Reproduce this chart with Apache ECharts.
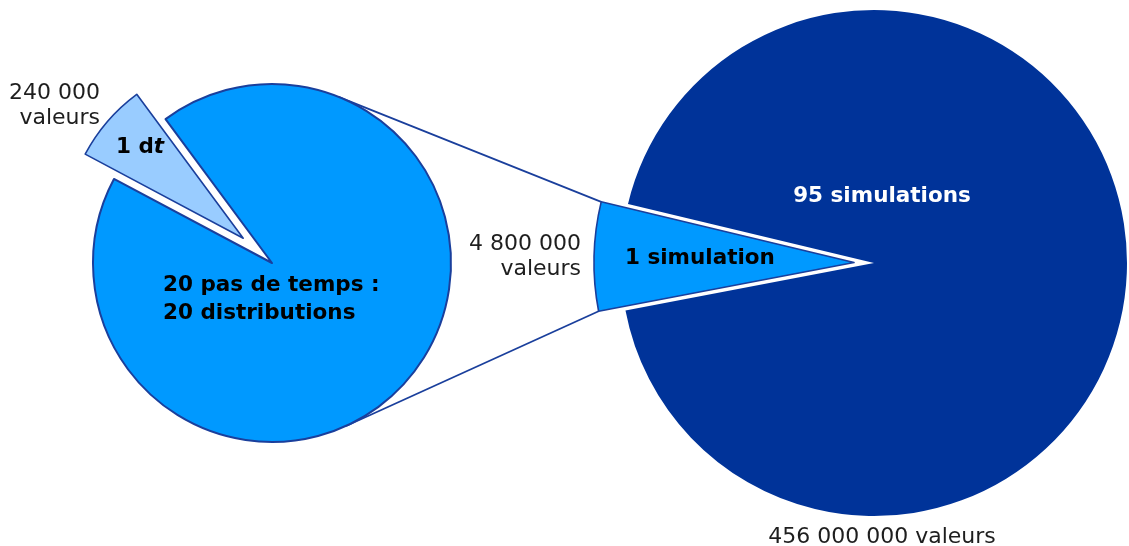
<!DOCTYPE html>
<html>
<head>
<meta charset="utf-8">
<script src="https://cdn.jsdelivr.net/npm/echarts@6/dist/echarts.min.js"></script>
<style>
html,body{margin:0;padding:0;background:#fff;}
#main{width:1129px;height:546px;}
</style>
</head>
<body>
<div id="main"></div>
<script>
// ---- data ----
const timeStepNames = ['1 dt', '19 autres pas de temps'];
const timeStepValues = [1, 19];
const simulationNames = ['1 simulation', '95 simulations'];
const simulationValues = [1, 95];
const valueLabels = ['240 000\nvaleurs', '4 800 000\nvaleurs', '456 000 000 valeurs'];
const sliceLabels = ['20 pas de temps :\n20 distributions', '1 simulation', '95 simulations'];

// ---- style ----
const FONT = 'DejaVu Sans';
const C_MAIN = '#0099ff', C_DT = '#99ccff', C_DARK = '#003399', C_EDGE = '#1a3f9c';
const leftCenter = [272, 263], leftR = 179, leftStart = 152, leftMinAngle = 25.5, leftOffset = 38;
const rightCenter = [874, 263], rightR = 253, sliceR = 260, rightStart = 190.8, rightMinAngle = 24.3, rightOffset = 20;
const REG = 22, BOLD = 21.5;

const chart = echarts.init(document.getElementById('main'), null, {renderer: 'canvas'});

const common = {
  type: 'pie', silent: true, animation: false, clockwise: true,
  label: {show: false}, labelLine: {show: false},
  emphasis: {disabled: true}, avoidLabelOverlap: false
};

const option = {
  backgroundColor: '#ffffff',
  animation: false,
  series: [
    Object.assign({}, common, {
      name: 'pas de temps', center: leftCenter, radius: leftR,
      startAngle: leftStart, minAngle: leftMinAngle,
      selectedMode: 'single', selectedOffset: leftOffset,
      select: {itemStyle: {color: C_DT, borderColor: C_EDGE, borderWidth: 1.6}},
      data: timeStepValues.map((v, i) => ({
        value: v, name: timeStepNames[i], selected: i === 0,
        itemStyle: i === 0
          ? {color: C_DT, borderColor: C_EDGE, borderWidth: 1.6}
          : {color: C_MAIN, borderColor: C_EDGE, borderWidth: 2}
      }))
    }),
    Object.assign({}, common, {
      name: 'simulations', center: rightCenter, radius: rightR,
      startAngle: rightStart, minAngle: rightMinAngle,
      data: simulationValues.map((v, i) => ({
        value: v, name: simulationNames[i],
        itemStyle: i === 0 ? {color: 'rgba(0,0,0,0)', borderWidth: 0} : {color: C_DARK, borderWidth: 0}
      }))
    }),
    Object.assign({}, common, {
      name: 'simulation', center: rightCenter, radius: sliceR,
      startAngle: rightStart, minAngle: rightMinAngle,
      selectedMode: 'single', selectedOffset: rightOffset,
      select: {itemStyle: {color: C_MAIN, borderColor: C_EDGE, borderWidth: 1.6}},
      data: simulationValues.map((v, i) => ({
        value: v, name: simulationNames[i], selected: i === 0,
        itemStyle: i === 0 ? {color: C_MAIN, borderColor: C_EDGE, borderWidth: 1.6} : {color: 'rgba(0,0,0,0)', borderWidth: 0}
      }))
    })
  ]
};
chart.setOption(option);

// ---- connectors derived from the library's pie layout ----
function layoutOf(seriesIndex, idx) {
  try {
    return chart.getModel().getSeriesByIndex(seriesIndex).getData().getItemLayout(idx);
  } catch (e) { return null; }
}
const sl = layoutOf(2, 0);
const ll = layoutOf(0, 1);
const graphics = [];
if (sl && ll) {
  const mid = (sl.startAngle + sl.endAngle) / 2;
  const ax = sl.cx + rightOffset * Math.cos(mid), ay = sl.cy + rightOffset * Math.sin(mid);
  const pA = [ax + sl.r * Math.cos(sl.startAngle), ay + sl.r * Math.sin(sl.startAngle)];
  const pB = [ax + sl.r * Math.cos(sl.endAngle), ay + sl.r * Math.sin(sl.endAngle)];
  const top = pA[1] < pB[1] ? pA : pB, bot = pA[1] < pB[1] ? pB : pA;
  function tangent(P, sign) {
    const dx = P[0] - ll.cx, dy = P[1] - ll.cy;
    const d = Math.sqrt(dx * dx + dy * dy);
    const base = Math.atan2(dy, dx), a = Math.acos(ll.r / d);
    const t = base + sign * a;
    return [ll.cx + ll.r * Math.cos(t), ll.cy + ll.r * Math.sin(t)];
  }
  const t1 = tangent(top, -1), t2 = tangent(bot, 1);
  [[t1, top], [t2, bot]].forEach(([a, b]) => graphics.push({
    type: 'line', z: -1, silent: true,
    shape: {x1: a[0], y1: a[1], x2: b[0], y2: b[1]},
    style: {stroke: C_EDGE, lineWidth: 1.8}
  }));
}

function txt(text, x, y, align, opts) {
  const bold = opts && opts.bold;
  return {
    type: 'text', z: 100, silent: true, x: x, y: y,
    style: {
      text: text, x: 0, y: 0, align: align, verticalAlign: 'middle',
      font: (bold ? 'bold ' + BOLD : REG) + 'px "' + FONT + '"',
      fill: (opts && opts.fill) || '#1e1e1e', lineHeight: (opts && opts.lh) || 25
    }
  };
}
graphics.push(txt(valueLabels[0], 100, 106, 'right'));
graphics.push(txt(valueLabels[1], 581, 257, 'right'));
graphics.push(txt(valueLabels[2], 882, 537, 'center'));
graphics.push(txt(sliceLabels[0], 163, 299, 'left', {bold: true, fill: '#000', lh: 28}));
graphics.push(txt(sliceLabels[1], 625, 258, 'left', {bold: true, fill: '#000'}));
graphics.push(txt(sliceLabels[2], 882, 196, 'center', {bold: true, fill: '#ffffff'}));
graphics.push({
  type: 'text', z: 100, silent: true, x: 140, y: 147,
  style: {
    text: '{b|1 d}{bi|t}', align: 'center', verticalAlign: 'middle',
    rich: {
      b: {fontFamily: FONT, fontWeight: 'bold', fontSize: BOLD, fill: '#000', color: '#000'},
      bi: {fontFamily: FONT, fontWeight: 'bold', fontStyle: 'italic', fontSize: BOLD, fill: '#000', color: '#000'}
    }
  }
});
chart.setOption({graphic: {elements: graphics}});
</script>
</body>
</html>
